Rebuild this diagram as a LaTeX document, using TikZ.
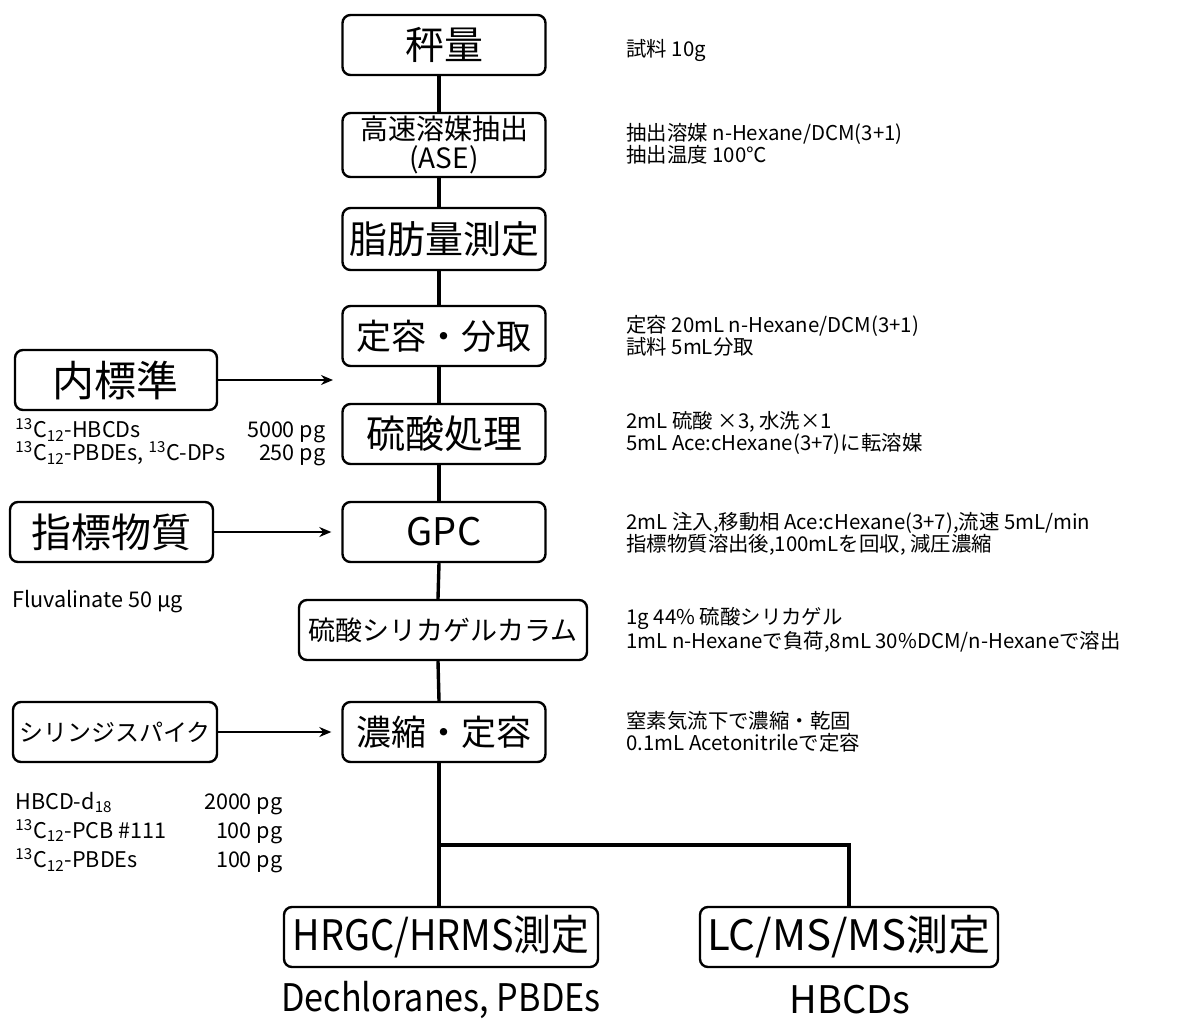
\documentclass[tikz,border=0pt]{standalone}
\usepackage{fontspec}
\setmainfont{Noto Sans CJK JP}
\usetikzlibrary{arrows.meta}
\begin{document}
\begin{tikzpicture}[x=0.5pt,y=-0.5pt,
  box/.style={draw,line width=1.2pt,rounded corners=4pt,inner sep=0pt,align=center,minimum height=30pt},
  flow/.style={line width=1.7pt},
  arr/.style={line width=0.8pt,-{Stealth[length=6pt,width=5pt]}},
  note/.style={anchor=west,inner sep=0pt,align=left,font=\fontsize{10.2}{11}\selectfont},
  lnote/.style={anchor=west,inner sep=0pt,font=\fontsize{10.8}{10.5}\selectfont},
]
\useasboundingbox (0,0) rectangle (1184,1024);

% main column
\node[box,minimum width=101.5pt,font=\fontsize{19.5}{20}\selectfont] (b1) at (444,45) {秤量};
\node[box,minimum width=101.5pt,minimum height=32pt,font=\fontsize{14}{14.5}\selectfont] (b2) at (444,145) {高速溶媒抽出\\(ASE)};
\node[box,minimum width=101.5pt,minimum height=31pt,font=\fontsize{19}{20}\selectfont] (b3) at (444,239) {脂肪量測定};
\node[box,minimum width=101.5pt,font=\fontsize{17.5}{18}\selectfont] (b4) at (444,336) {定容・分取};
\node[box,minimum width=101.5pt,font=\fontsize{19.5}{20}\selectfont] (b5) at (444,434) {硫酸処理};
\node[box,minimum width=101.5pt,font=\fontsize{19}{19}\selectfont] (b6) at (444,532) {GPC};
\node[box,minimum width=144pt,font=\fontsize{13.5}{14}\selectfont] (b7) at (443,630) {硫酸シリカゲルカラム};
\node[box,minimum width=101.5pt,font=\fontsize{17.5}{18}\selectfont] (b8) at (444,732) {濃縮・定容};

\node[box,minimum width=157pt,font=\fontsize{21}{22}\selectfont] (hr) at (441,937) {\scalebox{0.9}[1]{HRGC/HRMS測定}};
\node[box,minimum width=149pt,font=\fontsize{21}{22}\selectfont] (lc) at (849,937) {LC/MS/MS測定};
\node[inner sep=0pt,font=\fontsize{19}{20}\selectfont] (hrt) at (441,1000) {\scalebox{0.9}[1]{Dechloranes, PBDEs}};
\node[inner sep=0pt,font=\fontsize{19}{20}\selectfont] (lct) at (850,1000) {HBCDs};

% left side
\node[box,minimum width=101pt,font=\fontsize{21}{22}\selectfont] (nai) at (116,380) {内標準};
\node[box,minimum width=101.5pt,font=\fontsize{20}{21}\selectfont] (ind) at (111.5,532) {指標物質};
\node[box,minimum width=102pt,font=\fontsize{12}{13}\selectfont] (syr) at (115,732) {シリンジスパイク};

\node[lnote] (naitxt) at (15,443) {\begin{tabular*}{155pt}{@{}l@{\extracolsep{\fill}}r@{}}
\textsuperscript{13}C\textsubscript{12}-HBCDs & 5000 pg\\[-1pt]
\textsuperscript{13}C\textsubscript{12}-PBDEs, \textsuperscript{13}C-DPs & 250 pg
\end{tabular*}};
\node[lnote] (indtxt) at (12,602) {Fluvalinate 50 μg};
\node[lnote] (syrtxt) at (15,833) {\begin{tabular*}{133.5pt}{@{}l@{\extracolsep{\fill}}r@{}}
HBCD-d\textsubscript{18} & 2000 pg\\[2pt]
\textsuperscript{13}C\textsubscript{12}-PCB \#111 & 100 pg\\[2pt]
\textsuperscript{13}C\textsubscript{12}-PBDEs & 100 pg
\end{tabular*}};

% right notes
\node[note] (n1) at (626,50) {試料 10g};
\node[note] (n2) at (626,144) {抽出溶媒 n-Hexane/DCM(3+1)\\抽出温度 100℃};
\node[note] (n4) at (626,336) {定容 20mL n-Hexane/DCM(3+1)\\試料 5mL分取};
\node[note] (n5) at (626,433) {2mL 硫酸 ×3, 水洗×1\\5mL Ace:cHexane(3+7)に転溶媒};
\node[note] (n6) at (626,534) {2mL 注入,移動相 Ace:cHexane(3+7),流速 5mL/min\\指標物質溶出後,100mLを回収, 減圧濃縮};
\node[note] (n7) at (626,630) {1g 44\% 硫酸シリカゲル\\1mL n-Hexaneで負荷,8mL 30\%DCM/n-Hexaneで溶出};
\node[note] (n8) at (626,732) {窒素気流下で濃縮・乾固\\0.1mL Acetonitrileで定容};

% connectors
\foreach \a/\b in {b1/b2,b2/b3,b3/b4,b4/b5,b5/b6,b6/b7,b7/b8}
  \draw[flow] ([xshift=-2.5pt]\a.south) -- ([xshift=-2.5pt]\b.north);
\draw[flow] ([xshift=-2.5pt]b8.south) -- ([xshift=-1pt]hr.north);
\coordinate (j) at (439,845);
\draw[flow] (j) -| (lc.north);

\coordinate (t1) at (333,380);
\draw[arr] (nai.east) -- (t1);
\draw[arr] (ind.east) -- ([xshift=-5pt]b6.west);
\draw[arr] (syr.east) -- ([xshift=-5pt]b8.west);
\end{tikzpicture}
\end{document}
